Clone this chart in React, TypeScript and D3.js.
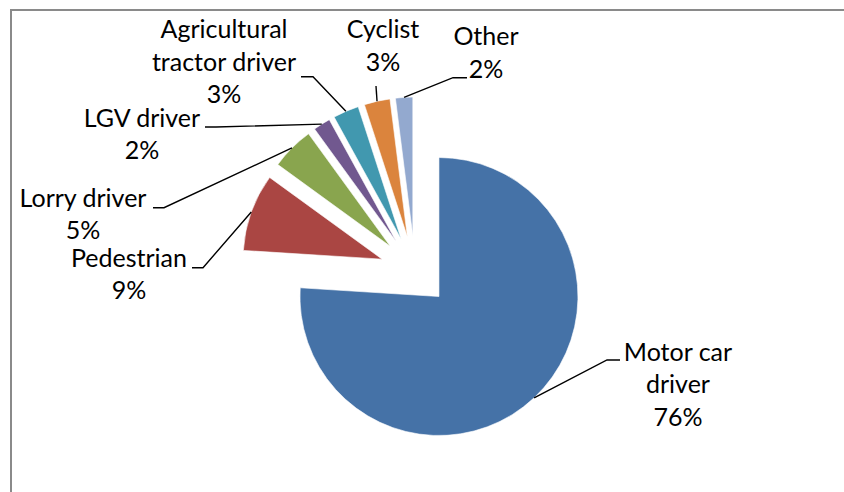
import React from "react";
import * as d3 from "d3";

const categories = [
  "Motor car driver",
  "Pedestrian",
  "Lorry driver",
  "LGV driver",
  "Agricultural tractor driver",
  "Cyclist",
  "Other",
];
const values = [76, 9, 5, 2, 3, 3, 2];
const labelLines = [
  ["Motor car", "driver", "76%"],
  ["Pedestrian", "9%"],
  ["Lorry driver", "5%"],
  ["LGV driver", "2%"],
  ["Agricultural", "tractor driver", "3%"],
  ["Cyclist", "3%"],
  ["Other", "2%"],
];
const colors = ["#4572A7", "#AA4643", "#89A54E", "#71588F", "#4198AF", "#DB843D", "#93A9CF"];

// layout: label centre x, first baseline y, leader end point and elbow
const labelLayout = [
  { x: 678, y: 360.7, end: [620, 360], elbow: [607, 360] },
  { x: 129, y: 266.7, end: [192, 267.7], elbow: [203, 267.7] },
  { x: 83, y: 206.7, end: [153, 207.7], elbow: [164, 207.7] },
  { x: 142, y: 126.7, end: [205, 127], elbow: [216, 127] },
  { x: 224, y: 38.3, end: [301, 76.7], elbow: [313, 76.7] },
  { x: 383, y: 38.3, end: [376, 86], elbow: [376, 86] },
  { x: 486, y: 45, end: [467, 77.7], elbow: [453, 77.7] },
];

const W = 844;
const H = 492;
const CX = 415;
const CY = 271;
const R = 139;
const EXPLODE = 35;
const LINE_H = 32.5;

export default function App() {
  const pie = d3.pie<number>().sort(null).value((d) => d);
  const arcs = pie(values);
  const arcGen = d3.arc<d3.PieArcDatum<number>>().innerRadius(0).outerRadius(R);

  return (
    <svg
      width={W}
      height={H}
      style={{ position: "absolute", left: 0, top: 0, display: "block", background: "#fff" }}
      fontFamily="Lato, 'Open Sans', sans-serif"
    >
      <rect x={0} y={0} width={W} height={H} fill="#fff" />
      <path d={`M11,${H} L11,10 L${W},10`} fill="none" stroke="#8a8a8a" strokeWidth={2} />
      {arcs.map((a, i) => {
        const mid = (a.startAngle + a.endAngle) / 2;
        const ox = CX + EXPLODE * Math.sin(mid);
        const oy = CY - EXPLODE * Math.cos(mid);
        const ax = ox + R * Math.sin(mid);
        const ay = oy - R * Math.cos(mid);
        const L = labelLayout[i];
        return (
          <g key={categories[i]}>
            <path
              d={arcGen(a) || ""}
              transform={`translate(${ox},${oy})`}
              fill={colors[i]}
              stroke="#fff"
              strokeWidth={0.6}
            />
            <polyline
              points={`${L.end[0]},${L.end[1]} ${L.elbow[0]},${L.elbow[1]} ${ax},${ay}`}
              fill="none"
              stroke="#000"
              strokeWidth={1.4}
            />
            <text textAnchor="middle" fontSize={25} fill="#000">
              {labelLines[i].map((t, j) => (
                <tspan key={j} x={L.x} y={L.y + j * LINE_H}>
                  {t}
                </tspan>
              ))}
            </text>
          </g>
        );
      })}
    </svg>
  );
}
